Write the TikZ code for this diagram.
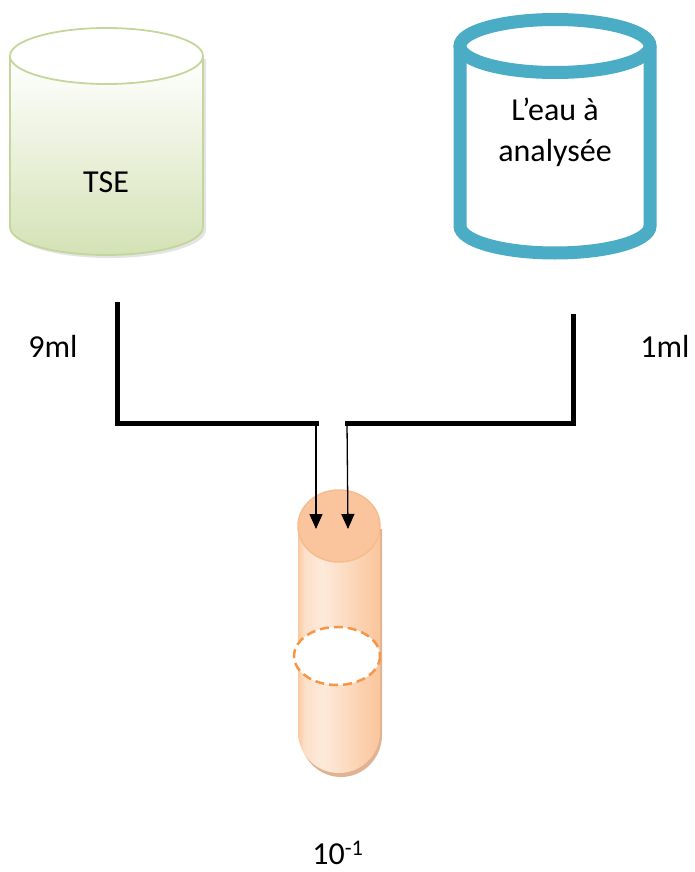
\documentclass[tikz,border=0pt]{standalone}
\usepackage{fontspec}
\setmainfont{Carlito}
\usetikzlibrary{arrows.meta}
\definecolor{tseline}{HTML}{C3D69B}
\definecolor{tsefill}{HTML}{D4E2B6}
\definecolor{blueline}{HTML}{4BACC6}
\definecolor{tubeA}{HTML}{FAC193}
\definecolor{tubeB}{HTML}{FDEADB}
\definecolor{tubecap}{HTML}{FAC59C}
\definecolor{tubeedge}{HTML}{F6BC8E}
\definecolor{tubeshadow}{HTML}{D9A07A}
\definecolor{dashor}{HTML}{F79646}
% TikZ fits the path onto the middle 50bp of a custom shading (25bp..75bp)
\pgfdeclarehorizontalshading{tubeshade}{100bp}{color(0bp)=(tubeA); color(25bp)=(tubeA!80!tubeB); color(29bp)=(tubeB!75!tubeA); color(40bp)=(tubeB); color(75bp)=(tubeA!90!tubeB); color(100bp)=(tubeA!90!tubeB)}
\begin{document}
\begin{tikzpicture}[x=1pt,y=-1pt,
  txt/.style={font=\fontsize{32}{38}\selectfont, inner sep=0pt},
  bracket/.style={line width=5pt, line join=miter, line cap=rect},
  feed/.style={line width=1.3pt, -{Triangle[length=15pt,width=13pt]}}]
\useasboundingbox (0,0) rectangle (695,872);

% ---- TSE container ----
\fill[black!30, opacity=0.35] (13,59) -- (13,230)
  arc[start angle=180, end angle=0, x radius=96.5, y radius=28] -- (206,59) -- cycle;
\shade[top color=white, bottom color=tsefill] (10,56) -- (10,227)
  arc[start angle=180, end angle=0, x radius=96.5, y radius=28] -- (203,56) -- cycle;
\draw[tseline, line width=1.8pt] (10,56) -- (10,227)
  arc[start angle=180, end angle=0, x radius=96.5, y radius=28] -- (203,56);
\draw[tseline, line width=1.8pt, fill=white] (106.5,56) ellipse[x radius=96.5, y radius=28];
\node[txt] (tse) at (106,182) {TSE};

% ---- sample container ----
\draw[blueline, line width=13pt, fill=white] (460,46) -- (460,226)
  arc[start angle=180, end angle=0, x radius=95, y radius=27] -- (650,46);
\draw[blueline, line width=13pt, fill=white] (555,46) ellipse[x radius=95, y radius=26.5];
\node[txt] (eau) at (555,109) {L’eau à};
\node[txt] (ana) at (555,153) {analysée};

% ---- connectors ----
\coordinate (lt) at (117,304);
\coordinate (lc) at (117,423);
\coordinate (lm) at (316,423);
\coordinate (rt) at (573,316);
\coordinate (rc) at (573,423);
\coordinate (rm) at (347,423);
\draw[bracket] (lt) -- (lc) -- (lm);
\draw[bracket] (rt) -- (rc) -- (rm);
\node[txt] (nine) at (53,346) {9ml};
\node[txt] (one) at (665,346) {1ml};

% ---- tube ----
\fill[tubeshadow, opacity=0.8] (300,529) -- (300,735)
  arc[start angle=180, end angle=0, x radius=41, y radius=42] -- (382,529) -- cycle;
\shade[shading=tubeshade] (298,526) -- (298,732)
  arc[start angle=180, end angle=0, x radius=41, y radius=41] -- (380,526) -- cycle;
\draw[tubeedge, line width=1.5pt, fill=tubecap] (339,526) ellipse[x radius=41, y radius=36];
\draw[dashor, line width=2.5pt, dash pattern=on 9pt off 5pt, fill=white] (337,656) ellipse[x radius=43, y radius=29];
\coordinate (tl) at (316,529);
\coordinate (tr) at (348,529);
\draw[feed] (lm) -- (tl);
\draw[feed] (rm) -- (tr);
\node[txt] (dil) at (338,853) {10\textsuperscript{-1}};
\end{tikzpicture}
\end{document}
